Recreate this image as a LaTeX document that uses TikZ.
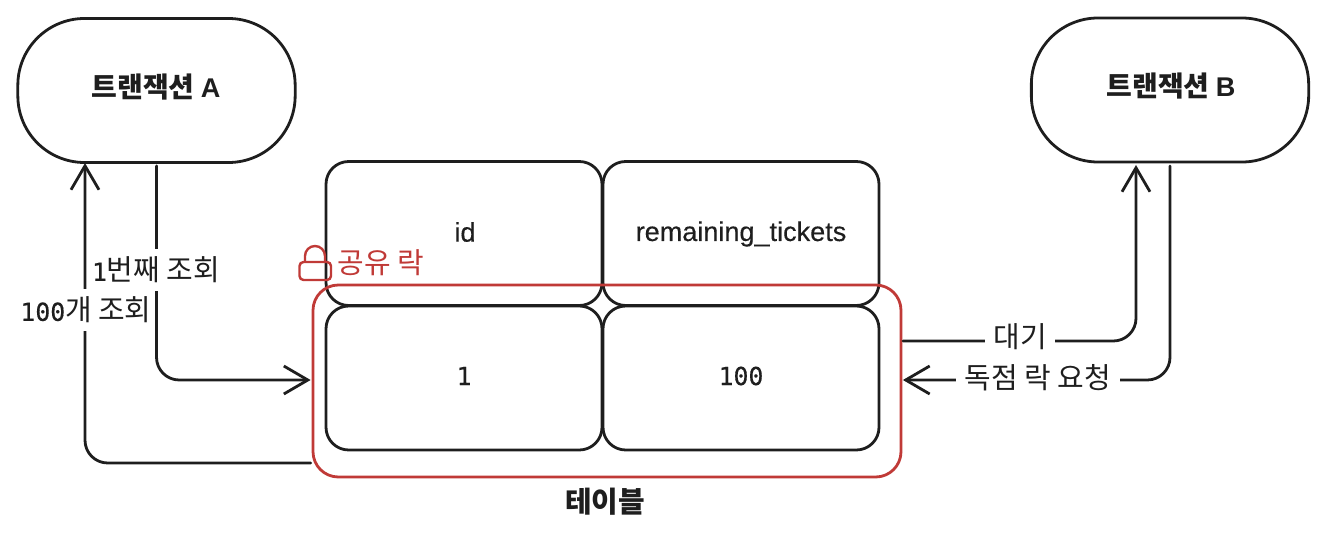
\documentclass[tikz,border=0pt]{standalone}
\usepackage{fontspec}
\usetikzlibrary{arrows.meta,calc}
\setmainfont{Noto Sans CJK KR}
\newfontfamily\monof[FakeBold=0.4]{DejaVu Sans Mono}
\newfontfamily\latf[FakeBold=0.3]{Liberation Sans}
\newfontfamily\latthin{Liberation Sans}
\definecolor{ink}{HTML}{1E1E1E}
\definecolor{lockred}{HTML}{C03A37}
\newcommand{\kosize}{\fontsize{21.7pt}{24pt}\selectfont}
\newcommand{\titlesize}{\fontsize{21pt}{24pt}\selectfont}
\newcommand{\latsize}{\fontsize{20.3pt}{24pt}\selectfont}
\newcommand{\monosize}{\fontsize{18.6pt}{24pt}\selectfont}
\tikzset{
  every node/.style={font=\kosize, text=ink, inner sep=0pt},
  txbox/.style={draw=ink, line width=2.1pt, rounded corners=50pt, minimum width=208pt, minimum height=108pt},
  cellbox/.style={draw=ink, line width=2.1pt, rounded corners=17pt, minimum width=207pt, minimum height=108pt},
  selbox/.style={draw=lockred, line width=2.1pt, rounded corners=19pt, minimum width=441pt, minimum height=144pt},
  conn/.style={draw=ink, line width=2.1pt, rounded corners=17pt, line cap=round},
  tip/.style={-{Straight Barb[length=18pt,width=21pt,line width=2.1pt]}},
  lbl/.style={fill=white, inner ysep=0pt, inner xsep=2pt, minimum height=31.5pt},
  widelbl/.style={lbl, inner xsep=6.5pt},
  boldlbl/.style={font=\kosize\bfseries},
  titlelbl/.style={font=\titlesize\bfseries},
}
\begin{document}
\begin{tikzpicture}[x=0.75pt,y=-0.75pt]
\useasboundingbox (0,0) rectangle (1330,545);
\node[txbox] (txa) at (156.5,90.5) {};
\node[txbox] (txb) at (1170,90) {};
\node[cellbox] (id) at (464,233.5) {};
\node[cellbox] (rem) at (741,233.5) {};
\node[cellbox] (one) at (464,378) {};
\node[cellbox] (hundred) at (741,378) {};
\node[selbox] (sel) at (607,381) {};
\node[titlelbl] (ta) at (156,87) {트랜잭션 {\latthin\latsize A}};
\node[titlelbl] (tb) at (1171,86) {트랜잭션 {\latthin\latsize B}};
\node[font=\latf\latsize] (tid) at (465,232) {id};
\node[font=\latf\latsize] (trem) at (741,234) {remaining\_tickets};
\node[font=\monof\monosize] (tone) at (464,376) {1};
\node[font=\monof\monosize] (thun) at (741,376) {100};
\node[boldlbl] (ttab) at (605,502) {테이블};
\node[text=lockred] (lockt) at (381,263) {공유 락};
% lock icon
\draw[lockred, line width=1.8pt, rounded corners=3pt] (299.5,262) rectangle (331,280);
\draw[lockred, line width=1.8pt] (305,262) -- (305,256) arc[start angle=180,end angle=360,radius=10] -- (325,262);
% connectors
\coordinate (a1) at ($(txa.south)+(0,2)$);
\coordinate (b1) at (1170,166);
\coordinate (sw) at ($(sel.west)+(-1,0)$);
\coordinate (se) at ($(sel.east)+(0.5,0)$);
\draw[conn,tip] (a1) |- (sw |- 0,380);
\draw[conn,tip] (sw |- 0,463) -- (85,463) -- (85,163);
\draw[conn,tip] (se |- 0,341) -- (1136,341) -- (1136,165);
\draw[conn,tip] (b1) |- (se |- 0,380);
\node[lbl] (l2) at (86,310) {{\monof\monosize 100}개 조회};
\node[lbl] (l1) at (156,270) {{\monof\monosize 1}번째 조회};
\node[widelbl] (l3) at (1020,337) {대기};
\node[widelbl] (l4) at (1038,378) {독점 락 요청};
\end{tikzpicture}
\end{document}
